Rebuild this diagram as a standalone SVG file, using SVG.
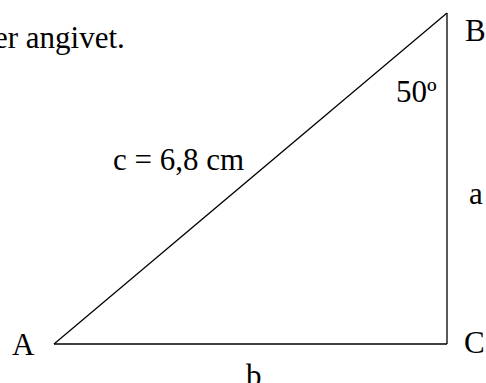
<svg xmlns="http://www.w3.org/2000/svg" width="486" height="383" viewBox="0 0 486 383">
<style>
text { font-family: "Liberation Serif", "Times New Roman", serif; font-size: 31px; fill: #000; }
.edge { stroke: #000; stroke-width: 1.3; fill: none; }
</style>
<rect width="486" height="383" fill="#fff"/>
<text x="-6" y="48">er angivet.</text>
<g id="connectors">
<line class="edge" x1="54" y1="344" x2="447" y2="344"/>
<line class="edge" x1="447" y1="344" x2="447" y2="13"/>
<line class="edge" x1="54" y1="344" x2="447" y2="13"/>
</g>
<g id="A"><text x="12" y="355">A</text></g>
<g id="B"><text x="465" y="41">B</text></g>
<g id="C"><text x="464" y="353">C</text></g>
<text x="396" y="102">50º</text>
<text x="113" y="170">c = 6,8 cm</text>
<text x="469" y="204">a</text>
<text x="246" y="386">b</text>
</svg>
